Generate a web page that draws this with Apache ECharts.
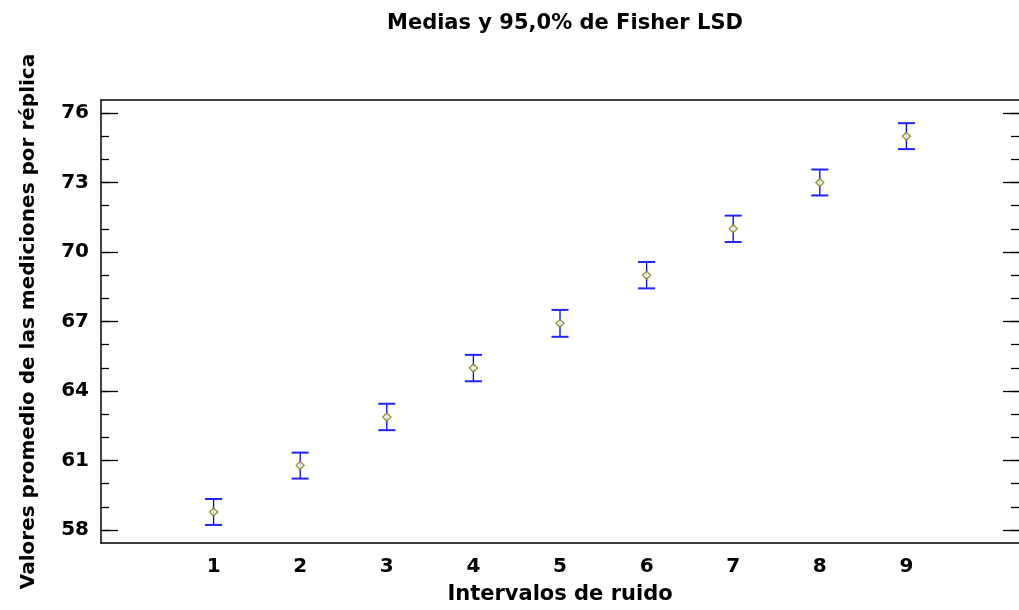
<!DOCTYPE html>
<html>
<head>
<meta charset="utf-8">
<script src="https://cdn.jsdelivr.net/npm/echarts@6/dist/echarts.min.js"></script>
<style>
  html, body { margin: 0; padding: 0; background: #fff; }
  #chart { width: 1019px; height: 610px; }
</style>
</head>
<body>
<div id="chart"></div>
<script>
// datos
const intervalos = [1, 2, 3, 4, 5, 6, 7, 8, 9];
const medias = [58.78, 60.78, 62.88, 64.99, 66.92, 69.0, 71.0, 73.0, 75.0];
const semiLSD = [0.56, 0.56, 0.57, 0.57, 0.58, 0.57, 0.57, 0.56, 0.56];
const yMarcas = [58, 61, 64, 67, 70, 73, 76];
const yMenores = [58, 59, 60, 61, 62, 63, 64, 65, 66, 67, 68, 69, 70, 71, 72, 73, 74, 75, 76];

const FONT = 'DejaVu Sans';
const chart = echarts.init(document.getElementById('chart'));

const barras = intervalos.map((x, i) => [x, medias[i] - semiLSD[i], medias[i] + semiLSD[i]]);
const puntos = intervalos.map((x, i) => [x, medias[i]]);

// eje Y auxiliar: solo marcas
const ejeMarcas = (pos, vals, len) => ({
  type: 'value',
  position: pos,
  min: 57.44,
  max: 76.56,
  axisLine: { show: false, onZero: false },
  splitLine: { show: false },
  axisLabel: { show: false },
  axisTick: { show: true, inside: true, length: len, customValues: vals, lineStyle: { color: '#000', width: 1.3 } }
});

chart.setOption({
  animation: false,
  title: {
    text: 'Medias y 95,0% de Fisher LSD',
    left: 382,
    top: 8,
    textStyle: { fontFamily: FONT, fontWeight: 'bold', fontSize: 21, color: '#000' }
  },
  grid: { left: 101, right: -2, top: 100, bottom: 66 },
  xAxis: [
    {
      type: 'value',
      min: -0.3,
      max: 10.3,
      name: 'Intervalos de ruido',
      nameLocation: 'middle',
      nameGap: 41,
      nameTextStyle: { fontFamily: FONT, fontWeight: 'bold', fontSize: 21, color: '#000' },
      axisLine: { show: true, onZero: false, lineStyle: { color: '#000', width: 1.5 } },
      axisTick: { show: false },
      splitLine: { show: false },
      axisLabel: {
        customValues: intervalos,
        margin: 14,
        fontFamily: FONT, fontWeight: 'bold', fontSize: 20, color: '#000'
      }
    },
    {
      // borde superior del marco
      type: 'value',
      position: 'top',
      min: -0.3,
      max: 10.3,
      axisLine: { show: true, onZero: false, lineStyle: { color: '#000', width: 1.5 } },
      axisTick: { show: false },
      axisLabel: { show: false },
      splitLine: { show: false }
    }
  ],
  yAxis: [
    {
      type: 'value',
      position: 'left',
      min: 57.44,
      max: 76.56,
      name: 'Valores promedio de las mediciones por réplica',
      nameLocation: 'middle',
      nameGap: 62,
      nameTextStyle: { fontFamily: FONT, fontWeight: 'bold', fontSize: 20, color: '#000' },
      axisLine: { show: true, onZero: false, lineStyle: { color: '#000', width: 1.5 } },
      splitLine: { show: false },
      axisTick: { show: true, inside: true, length: 17, customValues: yMarcas, lineStyle: { color: '#000', width: 1.3 } },
      axisLabel: {
        customValues: yMarcas,
        margin: 12,
        fontFamily: FONT, fontWeight: 'bold', fontSize: 20, color: '#000'
      }
    },
    ejeMarcas('left', yMenores, 8),
    ejeMarcas('right', yMarcas, 16),
    ejeMarcas('right', yMenores, 8)
  ],
  series: [
    {
      type: 'custom',
      data: barras,
      renderItem: function (params, api) {
        const x = api.value(0);
        const top = api.coord([x, api.value(2)]);
        const bot = api.coord([x, api.value(1)]);
        const hw = 8.5;
        return {
          type: 'group',
          children: [
            { type: 'line', shape: { x1: top[0], y1: top[1], x2: bot[0], y2: bot[1] }, style: { stroke: '#0000ff', lineWidth: 1.3 } },
            { type: 'line', shape: { x1: top[0] - hw, y1: top[1], x2: top[0] + hw, y2: top[1] }, style: { stroke: '#2222ff', lineWidth: 2 } },
            { type: 'line', shape: { x1: bot[0] - hw, y1: bot[1], x2: bot[0] + hw, y2: bot[1] }, style: { stroke: '#2222ff', lineWidth: 2 } }
          ]
        };
      },
      z: 2
    },
    {
      type: 'scatter',
      data: puntos,
      symbol: 'diamond',
      symbolSize: [8, 8],
      itemStyle: { color: '#ffffff', borderColor: '#808000', borderWidth: 1.4 },
      z: 3
    }
  ]
});
</script>
</body>
</html>
